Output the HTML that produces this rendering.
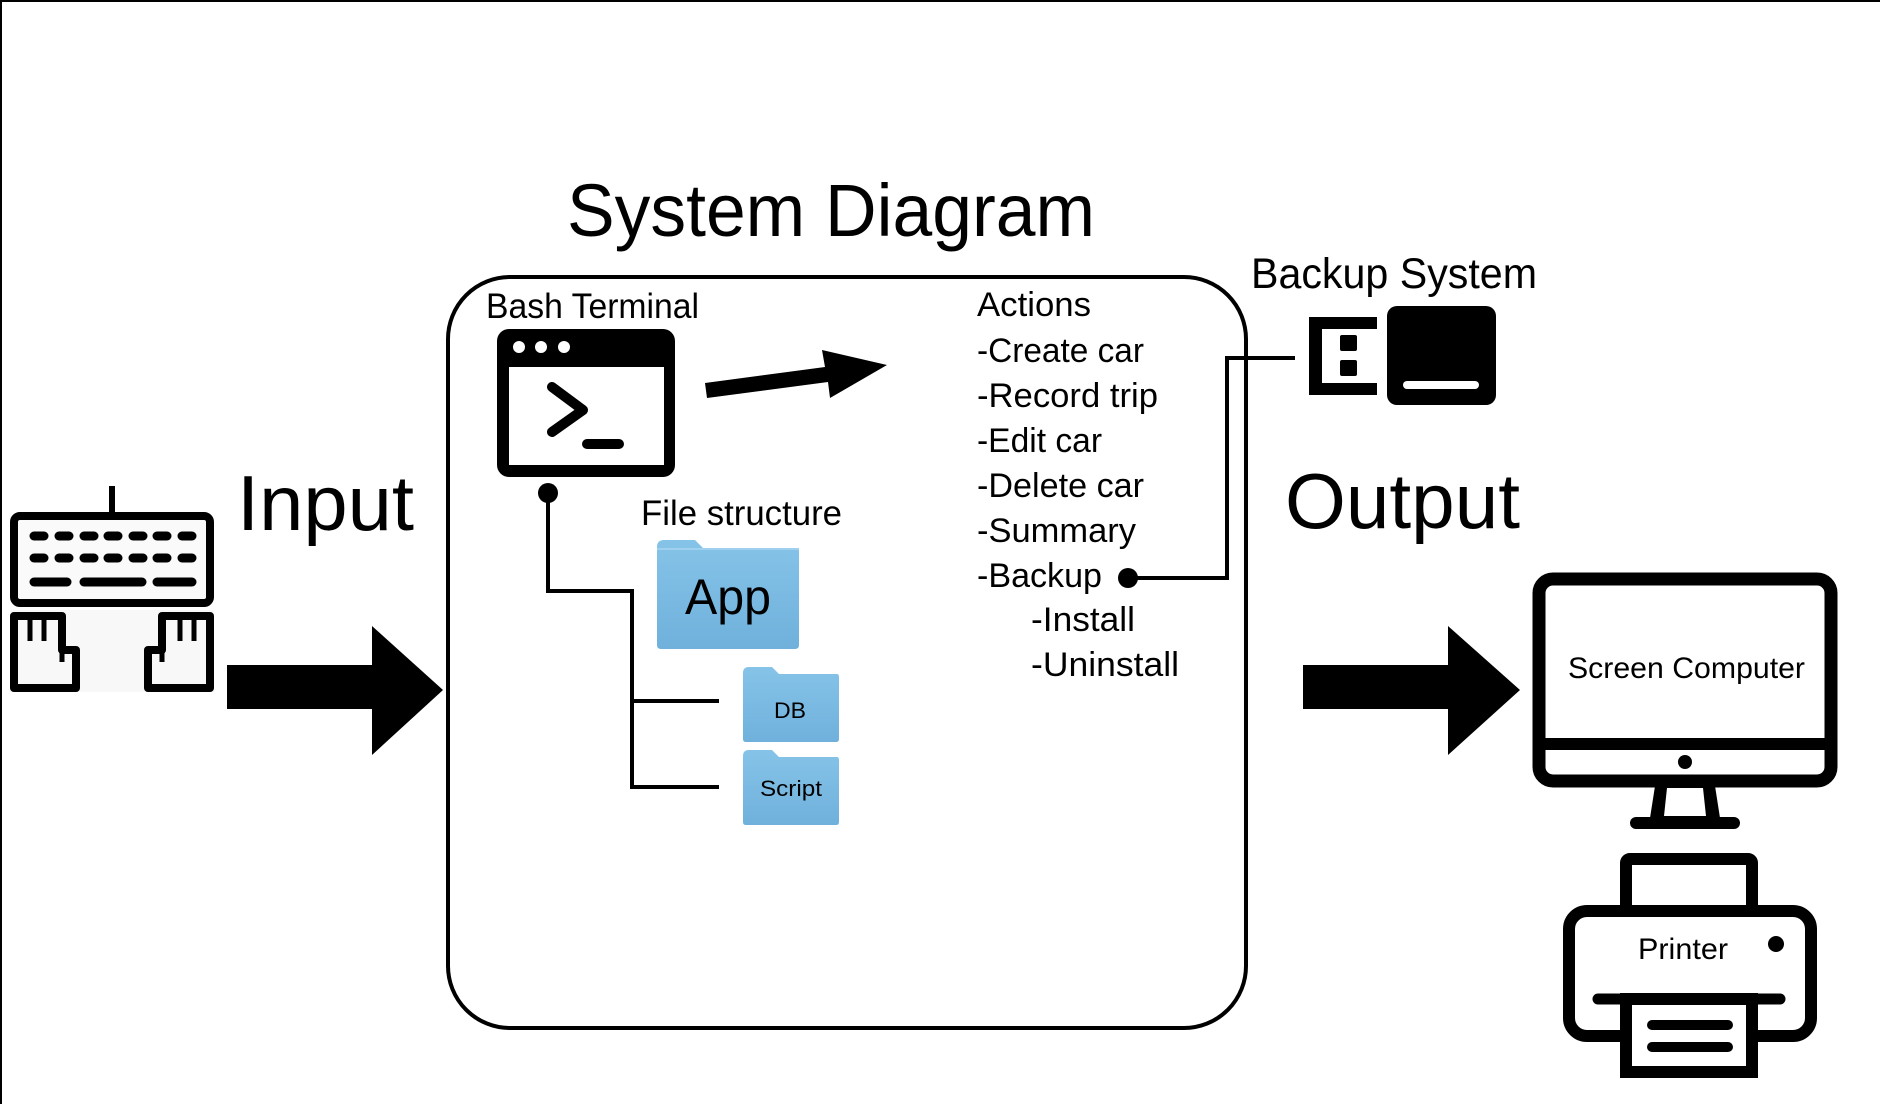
<!DOCTYPE html>
<html><head><meta charset="utf-8"><style>html,body{margin:0;padding:0;background:#fff}svg{display:block}text{font-family:"Liberation Sans",sans-serif;fill:#000}</style></head>
<body>
<svg width="1880" height="1104" viewBox="0 0 1880 1104" xmlns="http://www.w3.org/2000/svg">
<defs>
<linearGradient id="fg" x1="0" y1="0" x2="0" y2="1"><stop offset="0" stop-color="#86c3e8"/><stop offset="1" stop-color="#6fb1dc"/></linearGradient>
</defs>
<rect width="1880" height="1104" fill="#fff"/>
<line x1="0" y1="1" x2="1880" y2="1" stroke="#000" stroke-width="2"/>
<line x1="1" y1="0" x2="1" y2="1104" stroke="#000" stroke-width="2"/>

<text x="567" y="236" font-size="74" textLength="528" lengthAdjust="spacingAndGlyphs">System Diagram</text>
<rect x="448" y="277" width="798" height="751" rx="62" fill="none" stroke="#000" stroke-width="4"/>

<!-- keyboard -->
<line x1="112" y1="486" x2="112" y2="514" stroke="#000" stroke-width="6"/>
<rect x="14" y="516" width="196" height="87" rx="6" fill="#fafafa" stroke="#000" stroke-width="8"/>
<g stroke="#000" stroke-width="9" stroke-linecap="round">
<line x1="34" y1="536" x2="44" y2="536"/><line x1="59" y1="536" x2="69" y2="536"/><line x1="84" y1="536" x2="94" y2="536"/><line x1="108" y1="536" x2="118" y2="536"/><line x1="133" y1="536" x2="143" y2="536"/><line x1="157" y1="536" x2="167" y2="536"/><line x1="182" y1="536" x2="192" y2="536"/>
<line x1="34" y1="558" x2="44" y2="558"/><line x1="59" y1="558" x2="69" y2="558"/><line x1="84" y1="558" x2="94" y2="558"/><line x1="108" y1="558" x2="118" y2="558"/><line x1="133" y1="558" x2="143" y2="558"/><line x1="157" y1="558" x2="167" y2="558"/><line x1="182" y1="558" x2="192" y2="558"/>
<line x1="34" y1="582" x2="67" y2="582"/><line x1="84" y1="582" x2="142" y2="582"/><line x1="157" y1="582" x2="192" y2="582"/>
</g>
<rect x="10" y="610" width="204" height="82" fill="#f8f8f8"/>
<path d="M14 616 H62 V650 H76 V688 H14 Z" fill="#f8f8f8" stroke="#000" stroke-width="8" stroke-linejoin="round"/>
<path d="M210 616 H162 V650 H148 V688 H210 Z" fill="#f8f8f8" stroke="#000" stroke-width="8" stroke-linejoin="round"/>
<g stroke="#000" stroke-width="5"><line x1="30" y1="620" x2="30" y2="641"/><line x1="44" y1="620" x2="44" y2="641"/><line x1="62" y1="650" x2="62" y2="662"/><line x1="180" y1="620" x2="180" y2="641"/><line x1="194" y1="620" x2="194" y2="641"/><line x1="162" y1="650" x2="162" y2="662"/></g>

<text x="237" y="530" font-size="78" textLength="177" lengthAdjust="spacingAndGlyphs">Input</text>
<path d="M227 665 H372 V626 L443 690 L372 755 V709 H227 Z" fill="#000"/>

<!-- terminal -->
<text x="486" y="318" font-size="35" textLength="213" lengthAdjust="spacingAndGlyphs">Bash Terminal</text>
<rect x="497" y="329" width="178" height="148" rx="12" fill="#000"/>
<rect x="509" y="367" width="155" height="98" fill="#fff"/>
<circle cx="519" cy="347" r="6" fill="#fff"/><circle cx="541" cy="347" r="6" fill="#fff"/><circle cx="564" cy="347" r="6" fill="#fff"/>
<polyline points="552,387 583,410 552,432" fill="none" stroke="#000" stroke-width="10" stroke-linecap="round" stroke-linejoin="round"/>
<line x1="587" y1="444" x2="619" y2="444" stroke="#000" stroke-width="10" stroke-linecap="round"/>
<path d="M705 383 L825 367 L822 350 L887 365 L830 398 L828 382 L707 398 Z" fill="#000"/>

<circle cx="548" cy="493" r="10" fill="#000"/>
<polyline points="548,493 548,591 632,591 632,787 719,787" fill="none" stroke="#000" stroke-width="4"/>
<line x1="632" y1="701" x2="719" y2="701" stroke="#000" stroke-width="4"/>

<text x="641" y="525" font-size="35" textLength="201" lengthAdjust="spacingAndGlyphs">File structure</text>
<!-- folders -->
<path d="M657 547 Q657 540 664 540 H695 L703 548 H797 Q799 548 799 552 V645 Q799 649 795 649 H661 Q657 649 657 645 Z" fill="url(#fg)"/>
<path d="M657 549 H799" stroke="#9fd0ee" stroke-width="2"/>
<text x="685" y="614" font-size="50" textLength="86" lengthAdjust="spacingAndGlyphs">App</text>
<path d="M743 673 Q743 667 749 667 H772 L779 674 H837 Q839 674 839 677 V739 Q839 742 836 742 H746 Q743 742 743 739 Z" fill="url(#fg)"/>
<text x="774" y="718" font-size="22" textLength="32" lengthAdjust="spacingAndGlyphs">DB</text>
<path d="M743 756 Q743 750 749 750 H772 L779 757 H837 Q839 757 839 760 V822 Q839 825 836 825 H746 Q743 825 743 822 Z" fill="url(#fg)"/>
<text x="760" y="796" font-size="22" textLength="62" lengthAdjust="spacingAndGlyphs">Script</text>

<!-- actions -->
<g font-size="34">
<text x="977" y="316" textLength="114" lengthAdjust="spacingAndGlyphs">Actions</text>
<text x="977" y="362" textLength="167" lengthAdjust="spacingAndGlyphs">-Create car</text>
<text x="977" y="407" textLength="181" lengthAdjust="spacingAndGlyphs">-Record trip</text>
<text x="977" y="452" textLength="125" lengthAdjust="spacingAndGlyphs">-Edit car</text>
<text x="977" y="497" textLength="167" lengthAdjust="spacingAndGlyphs">-Delete car</text>
<text x="977" y="542" textLength="159" lengthAdjust="spacingAndGlyphs">-Summary</text>
<text x="977" y="587" textLength="125" lengthAdjust="spacingAndGlyphs">-Backup</text>
<text x="1031" y="631" textLength="104" lengthAdjust="spacingAndGlyphs">-Install</text>
<text x="1031" y="676" textLength="148" lengthAdjust="spacingAndGlyphs">-Uninstall</text>
</g>
<circle cx="1128" cy="578" r="10" fill="#000"/>
<polyline points="1128,578 1227,578 1227,358 1295,358" fill="none" stroke="#000" stroke-width="4"/>

<!-- backup -->
<text x="1251" y="288" font-size="43" textLength="286" lengthAdjust="spacingAndGlyphs">Backup System</text>
<path d="M1377 317 H1309 V395 H1377 V383 H1322 V329 H1377 Z" fill="#000"/>
<rect x="1340" y="335" width="17" height="16" rx="2" fill="#000"/>
<rect x="1340" y="360" width="17" height="16" rx="2" fill="#000"/>
<rect x="1387" y="306" width="109" height="99" rx="10" fill="#000"/>
<line x1="1407" y1="385" x2="1475" y2="385" stroke="#fff" stroke-width="8" stroke-linecap="round"/>

<text x="1285" y="528" font-size="78" textLength="235" lengthAdjust="spacingAndGlyphs">Output</text>
<path d="M1303 665 H1448 V626 L1520 690 L1448 755 V709 H1303 Z" fill="#000"/>

<!-- monitor -->
<rect x="1539" y="579" width="292" height="202" rx="14" fill="none" stroke="#000" stroke-width="13"/>
<line x1="1539" y1="744" x2="1831" y2="744" stroke="#000" stroke-width="12"/>
<circle cx="1685" cy="762" r="7" fill="#000"/>
<path d="M1655 786 H1715 L1720 818 H1650 Z" fill="#000"/>
<path d="M1667 788 H1703 L1706 816 H1664 Z" fill="#fff"/>
<line x1="1636" y1="823" x2="1734" y2="823" stroke="#000" stroke-width="12" stroke-linecap="round"/>
<text x="1568" y="678" font-size="30" textLength="237" lengthAdjust="spacingAndGlyphs">Screen Computer</text>

<!-- printer -->
<rect x="1626" y="859" width="126" height="52" rx="4" fill="none" stroke="#000" stroke-width="12"/>
<rect x="1569" y="911" width="242" height="125" rx="18" fill="#fff" stroke="#000" stroke-width="12"/>
<rect x="1626" y="999" width="126" height="73" fill="#fff" stroke="#000" stroke-width="12"/>
<line x1="1598" y1="999" x2="1780" y2="999" stroke="#000" stroke-width="11" stroke-linecap="round"/>
<line x1="1652" y1="1025" x2="1728" y2="1025" stroke="#000" stroke-width="10" stroke-linecap="round"/>
<line x1="1652" y1="1047" x2="1728" y2="1047" stroke="#000" stroke-width="10" stroke-linecap="round"/>
<circle cx="1776" cy="944" r="8" fill="#000"/>
<text x="1638" y="959" font-size="30" textLength="90" lengthAdjust="spacingAndGlyphs">Printer</text>
</svg>
</body></html>
